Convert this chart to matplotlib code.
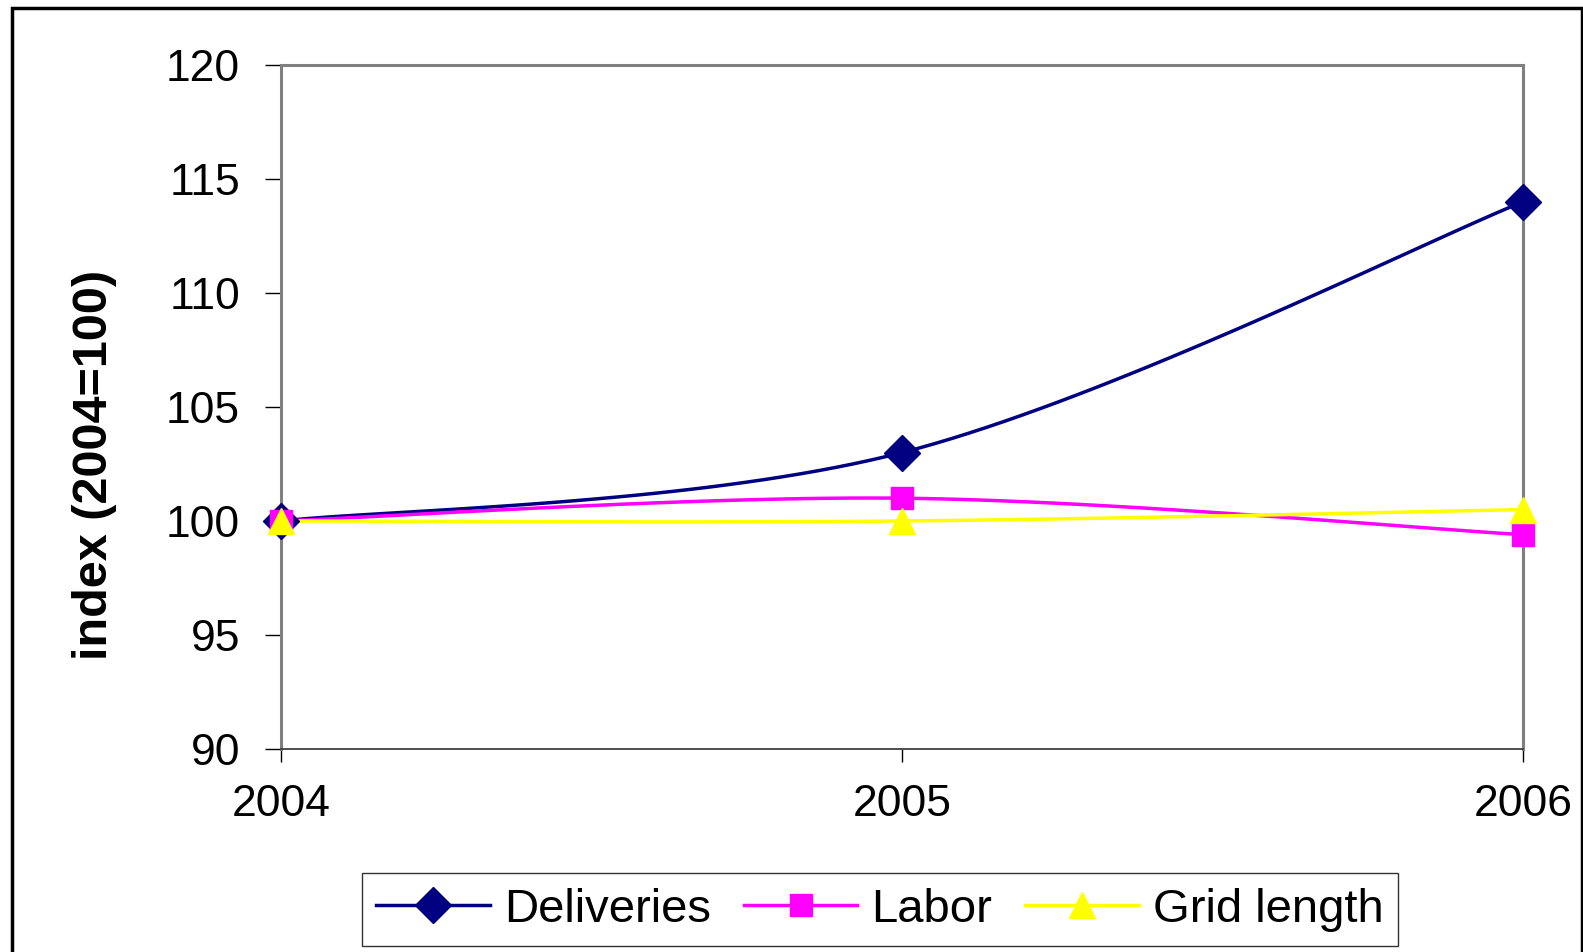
import numpy as np
import matplotlib
matplotlib.use("Agg")
import matplotlib.pyplot as plt
from matplotlib.patches import Rectangle

years = [2004, 2005, 2006]
deliveries = [100.0, 103.0, 114.0]
labor = [100.0, 101.0, 99.4]
grid_length = [100.0, 100.0, 100.5]
series_names = ["Deliveries", "Labor", "Grid length"]
y_ticks = [90, 95, 100, 105, 110, 115, 120]

plt.rcParams['font.family'] = ['Liberation Sans', 'DejaVu Sans']

def smooth(x, y, n=40):
    # Excel-style smoothed line (Bezier with Catmull-Rom control points)
    x = np.asarray(x, float); y = np.asarray(y, float)
    xs, ys = [], []
    for i in range(len(x) - 1):
        p0 = np.array([x[max(i - 1, 0)], y[max(i - 1, 0)]])
        p1 = np.array([x[i], y[i]])
        p2 = np.array([x[i + 1], y[i + 1]])
        p3 = np.array([x[min(i + 2, len(x) - 1)], y[min(i + 2, len(x) - 1)]])
        c1 = p1 + (p2 - p0) / 6.0
        c2 = p2 - (p3 - p1) / 6.0
        t = np.linspace(0, 1, n)[:, None]
        pts = ((1 - t) ** 3) * p1 + 3 * ((1 - t) ** 2) * t * c1 + 3 * (1 - t) * t ** 2 * c2 + t ** 3 * p2
        xs.extend(pts[:, 0]); ys.extend(pts[:, 1])
    return np.array(xs), np.array(ys)

W, H, DPI = 1583, 952, 100
fig = plt.figure(figsize=(W / DPI, H / DPI), dpi=DPI)
ax = fig.add_axes([281 / W, 1 - 749 / H, (1523 - 281) / W, (749 - 65) / H])

styles = [
    dict(color='#000080', marker='D', ms=18),
    dict(color='#FF00FF', marker='s', ms=16),
    dict(color='#FFFF00', marker='^', ms=19),
]
handles = []
for vals, name, st in zip([deliveries, labor, grid_length], series_names, styles):
    sx, sy = smooth(years, vals)
    ax.plot(sx, sy, color=st['color'], lw=2.5, zorder=3, clip_on=False)
    ax.plot(years, vals, linestyle='none', marker=st['marker'], ms=st['ms'],
            color=st['color'], mec=st['color'], zorder=4, clip_on=False)
    h, = ax.plot([], [], color=st['color'], lw=2.5, marker=st['marker'], ms=st['ms'],
                 mec=st['color'], label=name)
    handles.append(h)

ax.set_xlim(2004, 2006)
ax.set_ylim(90, 120)
ax.set_yticks(y_ticks)
ax.set_xticks(years)
ax.set_xticklabels([str(y) for y in years])
ax.tick_params(axis='both', labelsize=32, color='black', width=1, direction='out')
ax.tick_params(axis='y', length=11.5, pad=18)
ax.tick_params(axis='x', length=9, pad=16)
for side in ['top', 'right', 'left']:
    ax.spines[side].set_color('#808080')
    ax.spines[side].set_linewidth(2.2)
ax.spines['bottom'].set_color('#404040')
ax.spines['bottom'].set_linewidth(1.3)

fig.text(95 / W, 1 - 465 / H, "index (2004=100)", rotation=90, fontsize=35,
         fontweight='bold', ha='center', va='center')

leg = fig.legend(handles=handles, loc='center', bbox_to_anchor=(880 / W, 1 - 909.5 / H),
                 ncol=3, fontsize=34, frameon=True, fancybox=False, edgecolor='black',
                 handlelength=2.4, handletextpad=0.3, columnspacing=0.7,
                 borderpad=0.3, borderaxespad=0)
leg.get_frame().set_linewidth(1.0)

fig.patches.append(Rectangle((11.5 / W, -0.05), (1581.5 - 11.5) / W, 1.05 - 8 / H,
                             transform=fig.transFigure, fill=False, edgecolor='black',
                             linewidth=2.5, figure=fig))

fig.savefig('out.png', dpi=DPI)
